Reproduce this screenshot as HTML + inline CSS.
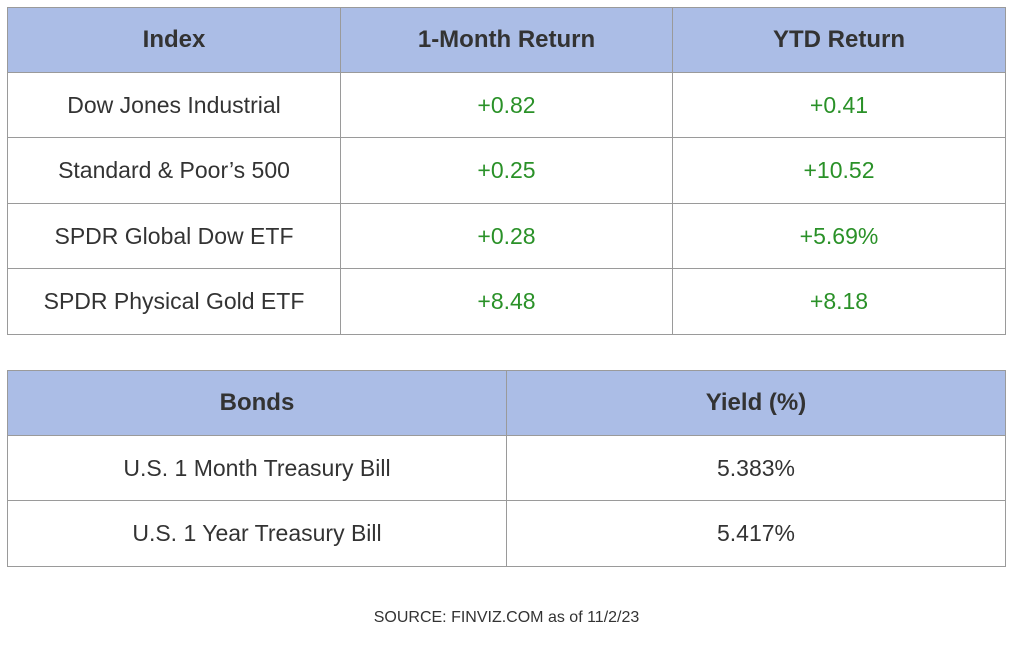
<!DOCTYPE html>
<html><head><meta charset="utf-8">
<style>
body{margin:0;width:1015px;height:660px;background:#fff;position:relative;font-family:"Liberation Sans",sans-serif;color:#333;overflow:hidden}
.c{position:absolute;box-sizing:border-box;border:1px solid #9a9a9a;display:flex;align-items:center;justify-content:center;font-size:23px}
.h{background:#abbde6;font-weight:bold;font-size:24px;color:#333}
.g{color:#2a9128}
.src{position:absolute;left:0;width:1013px;top:609px;text-align:center;font-size:16px;color:#333}
</style></head><body>
<div>
<div class="c h" style="left:7px;top:7px;width:334px;height:66px">Index</div>
<div class="c h" style="left:340px;top:7px;width:333px;height:66px">1-Month Return</div>
<div class="c h" style="left:672px;top:7px;width:334px;height:66px">YTD Return</div>

<div class="c" style="left:7px;top:72px;width:334px;height:66px">Dow Jones Industrial</div>
<div class="c g" style="left:340px;top:72px;width:333px;height:66px">+0.82</div>
<div class="c g" style="left:672px;top:72px;width:334px;height:66px">+0.41</div>

<div class="c" style="left:7px;top:137px;width:334px;height:67px">Standard &amp; Poor’s 500</div>
<div class="c g" style="left:340px;top:137px;width:333px;height:67px">+0.25</div>
<div class="c g" style="left:672px;top:137px;width:334px;height:67px">+10.52</div>

<div class="c" style="left:7px;top:203px;width:334px;height:66px">SPDR Global Dow ETF</div>
<div class="c g" style="left:340px;top:203px;width:333px;height:66px">+0.28</div>
<div class="c g" style="left:672px;top:203px;width:334px;height:66px">+5.69%</div>

<div class="c" style="left:7px;top:268px;width:334px;height:67px">SPDR Physical Gold ETF</div>
<div class="c g" style="left:340px;top:268px;width:333px;height:67px">+8.48</div>
<div class="c g" style="left:672px;top:268px;width:334px;height:67px">+8.18</div>
</div>

<div>
<div class="c h" style="left:7px;top:370px;width:500px;height:66px">Bonds</div>
<div class="c h" style="left:506px;top:370px;width:500px;height:66px">Yield (%)</div>

<div class="c" style="left:7px;top:435px;width:500px;height:66px">U.S. 1 Month Treasury Bill</div>
<div class="c" style="left:506px;top:435px;width:500px;height:66px">5.383%</div>

<div class="c" style="left:7px;top:500px;width:500px;height:67px">U.S. 1 Year Treasury Bill</div>
<div class="c" style="left:506px;top:500px;width:500px;height:67px">5.417%</div>
</div>

<div class="src">SOURCE: FINVIZ.COM as of 11/2/23</div>
</body></html>
